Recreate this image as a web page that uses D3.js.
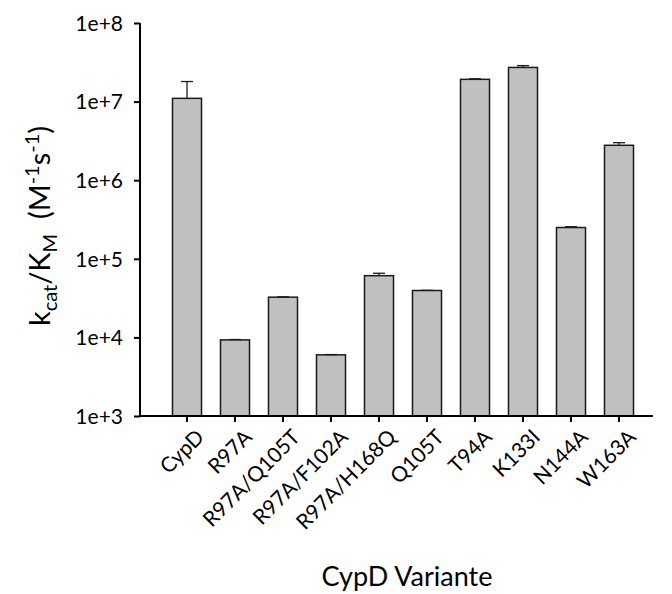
<!DOCTYPE html>
<html>
<head>
<meta charset="utf-8">
<script src="https://cdn.jsdelivr.net/npm/d3@7"></script>
<style>
  body { margin: 0; background: #fff; }
  text { font-family: Lato, "Open Sans", sans-serif; fill: #000; }
</style>
</head>
<body>
<svg id="chart" width="672" height="594"></svg>
<script>
// data
const variants = ['CypD', 'R97A', 'R97A/Q105T', 'R97A/F102A', 'R97A/H168Q',
                  'Q105T', 'T94A', 'K133I', 'N144A', 'W163A']
const kcat_km = [1.1e7, 9.3e3, 3.25e4, 6.0e3, 6.1e4, 3.95e4, 1.92e7, 2.72e7, 2.5e5, 2.78e6]
const err_up = [7.0e6, 1.0e2, 3.0e2, 5.0e1, 4.5e3, 2.0e2, 3.0e5, 1.5e6, 6.0e3, 2.2e5]
const y_ticks = [1e3, 1e4, 1e5, 1e6, 1e7, 1e8]
const y_tick_labels = ['1e+3', '1e+4', '1e+5', '1e+6', '1e+7', '1e+8']

let svg = d3.select('#chart')

let x = d3.scaleBand()
  .domain(variants)
  .range([163, 643])
  .paddingInner(0.4)
  .paddingOuter(0.2)

let y = d3.scaleLog()
  .domain([1e3, 1e8])
  .range([416, 23])

// bars
svg.append('g')
  .selectAll('rect')
  .data(variants)
  .join('rect')
  .attr('x', d => x(d) + x.bandwidth() / 2 - 14.5)
  .attr('width', 29)
  .attr('y', (d, i) => y(kcat_km[i]))
  .attr('height', (d, i) => y(1e3) - y(kcat_km[i]))
  .style('fill', '#c0c0c0')
  .style('stroke', '#1a1a1a')
  .style('stroke-width', 1.5)

// error bars (upper only)
let err_g = svg.append('g')
  .style('stroke', '#1a1a1a')
  .style('stroke-width', 1.3)
variants.forEach(function(d, i) {
  let cx = x(d) + x.bandwidth() / 2
  let top = y(kcat_km[i] + err_up[i])
  err_g.append('line')
    .attr('x1', cx).attr('x2', cx)
    .attr('y1', y(kcat_km[i])).attr('y2', top)
  err_g.append('line')
    .attr('x1', cx - 6).attr('x2', cx + 6)
    .attr('y1', top).attr('y2', top)
})

// y axis
let y_axis = svg.append('g')
  .attr('transform', 'translate(140,0)')
  .call(d3.axisLeft(y)
    .tickValues(y_ticks)
    .tickFormat((d, i) => y_tick_labels[i])
    .tickSize(6)
    .tickPadding(11))
y_axis.select('.domain').remove()
y_axis.selectAll('.tick line').style('stroke', '#000').style('stroke-width', 2)
y_axis.selectAll('.tick text').style('font-size', '21px').attr('dy', '0.35em')

svg.append('line')
  .attr('x1', 140).attr('x2', 140)
  .attr('y1', y(1e8)).attr('y2', y(1e3) + 1)
  .style('stroke', '#000').style('stroke-width', 2)

// x axis
let x_axis = svg.append('g')
  .attr('transform', 'translate(0,416)')
  .call(d3.axisBottom(x).tickSize(6).tickSizeOuter(0))
x_axis.select('.domain').remove()
x_axis.selectAll('.tick line').style('stroke', '#000').style('stroke-width', 2)
x_axis.selectAll('.tick text')
  .style('font-size', '21px')
  .style('text-anchor', 'end')
  .attr('x', 0)
  .attr('y', 0)
  .attr('dy', '0.7em')
  .attr('transform', 'translate(8,12) rotate(-45)')

svg.append('line')
  .attr('x1', 139).attr('x2', 653)
  .attr('y1', 416).attr('y2', 416)
  .style('stroke', '#000').style('stroke-width', 2)

// axis titles
let y_title = svg.append('text')
  .attr('transform', 'translate(50,226) rotate(-90)')
  .attr('text-anchor', 'middle')
  .style('font-size', '29px')
y_title.append('tspan').text('k')
y_title.append('tspan').text('cat').attr('dy', 7).style('font-size', '20px')
y_title.append('tspan').text('/K').attr('dy', -7)
y_title.append('tspan').text('M').attr('dy', 7).style('font-size', '20px')
y_title.append('tspan').text('\u00a0\u00a0(M').attr('dy', -7)
y_title.append('tspan').text('-1').attr('dy', -11).style('font-size', '20px')
y_title.append('tspan').text('s').attr('dy', 11)
y_title.append('tspan').text('-1').attr('dy', -11).style('font-size', '20px')
y_title.append('tspan').text(')').attr('dy', 11)

svg.append('text')
  .attr('x', 407)
  .attr('y', 586)
  .attr('text-anchor', 'middle')
  .style('font-size', '27px')
  .text('CypD Variante')
</script>
</body>
</html>
